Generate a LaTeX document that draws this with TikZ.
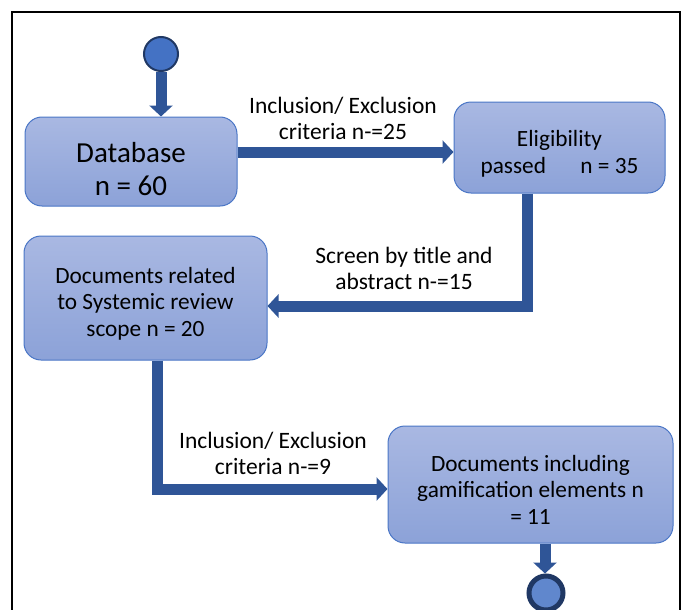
\documentclass[tikz,border=0pt]{standalone}
\usepackage{fontspec}
\setmainfont{Carlito}
\usetikzlibrary{arrows.meta,calc}
\definecolor{boxtop}{HTML}{A9B8E2}
\definecolor{boxbot}{HTML}{8CA2D8}
\definecolor{boxline}{HTML}{4A76C6}
\definecolor{arrowc}{HTML}{2F5597}
\definecolor{circfill}{HTML}{4472C4}
\definecolor{circline}{HTML}{203864}
\newcommand{\mystrut}[1]{\rule{0pt}{#1}}
\tikzset{
  stepbox/.style={rounded corners=17pt, top color=boxtop, bottom color=boxbot,
    draw=boxline, line width=1pt, align=center, inner sep=0pt,
    font=\fontsize{23.3}{26.5}\selectfont},
  flow/.style={draw=arrowc, line width=11pt,
    -{Triangle[width=23pt,length=11pt]}},
  lbl/.style={align=center, font=\fontsize{23.5}{26}\selectfont, inner sep=0pt},
  startc/.style={circle, fill=circfill, draw=circline, line width=2pt,
    minimum size=34pt, inner sep=0pt},
  endcs/.style={circle, fill=circfill!85!white, draw=circline, line width=5pt,
    minimum size=34pt, inner sep=0pt}
}
\begin{document}
\begin{tikzpicture}[x=1pt,y=-1pt]
\useasboundingbox (0,0) rectangle (683,610);
\clip (0,0) rectangle (683,610);
\draw[line width=1.5pt] (12,12) rectangle (680,640);

\node[startc] (start) at (161,54) {};
\node[stepbox, minimum width=212pt, minimum height=89pt, font=\fontsize{29}{33}\selectfont] (db) at (131,161.5) {\mystrut{35pt}Database\\n = 60};
\node[stepbox, minimum width=211pt, minimum height=91pt] (elig) at (559.5,147.5) {\mystrut{29pt}Eligibility\\passed\hspace{1.25em} n = 35};
\node[stepbox, minimum width=243pt, minimum height=124pt] (docs) at (145.5,298) {\mystrut{27pt}Documents related\\to Systemic review\\scope n = 20};
\node[stepbox, minimum width=285pt, minimum height=117pt] (gam) at (530.5,484.5) {\mystrut{26pt}Documents including\\gamification elements n\\= 11};
\node[endcs] (endc) at (546,593) {};

\node[lbl] (l1) at (343,118) {Inclusion/ Exclusion\\criteria n-=25};
\node[lbl] (l2) at (404,268) {Screen by title and\\abstract n-=15};
\node[lbl] (l3) at (273,453) {Inclusion/ Exclusion\\criteria n-=9};

\draw[flow] (start.south) -- (start.south |- db.north);
\draw[flow] (db.east |- 0,152) -- (elig.west |- 0,152);
\draw[flow] (elig.south -| 527,0) -- (527,306) -- (docs.east |- 0,306);
\draw[flow] (docs.south -| 157,0) -- (157,489) -- (gam.west |- 0,489);
\draw[flow] (gam.south -| 545,0) -- (endc.north -| 545,0);
\end{tikzpicture}
\end{document}
